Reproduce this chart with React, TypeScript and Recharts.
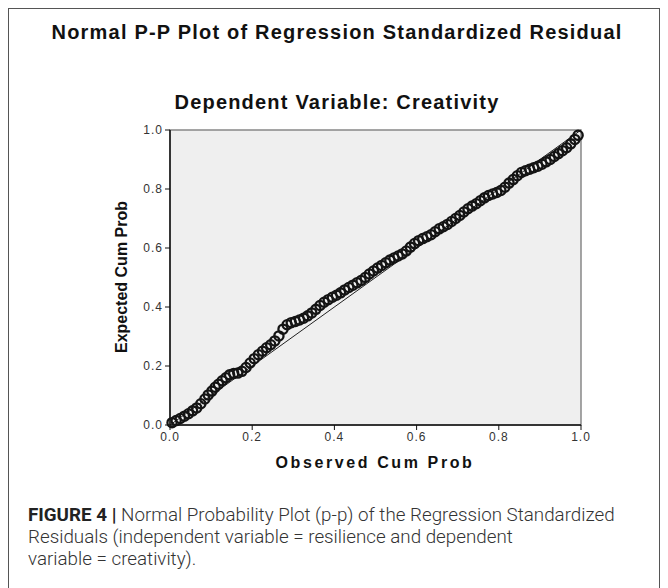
import {
  ScatterChart,
  Scatter,
  XAxis,
  YAxis,
  ReferenceArea,
  ReferenceLine,
} from 'recharts'

// observed cumulative probability (x) and expected cumulative probability (y)
const observed = [
  0.005, 0.015, 0.025, 0.035, 0.045, 0.055, 0.065, 0.075, 0.085, 0.093,
  0.102, 0.11, 0.118, 0.127, 0.136, 0.145, 0.155, 0.165, 0.175, 0.185,
  0.195, 0.205, 0.215, 0.225, 0.235, 0.245, 0.255, 0.265, 0.275, 0.285,
  0.295, 0.305, 0.315, 0.325, 0.335, 0.345, 0.355, 0.365, 0.375, 0.385,
  0.395, 0.405, 0.415, 0.425, 0.435, 0.445, 0.455, 0.465, 0.475, 0.485,
  0.495, 0.505, 0.515, 0.525, 0.535, 0.545, 0.555, 0.565, 0.575, 0.585,
  0.595, 0.605, 0.615, 0.625, 0.635, 0.645, 0.655, 0.665, 0.675, 0.685,
  0.695, 0.705, 0.715, 0.725, 0.735, 0.745, 0.755, 0.765, 0.775, 0.785,
  0.795, 0.805, 0.815, 0.825, 0.835, 0.845, 0.855, 0.865, 0.875, 0.885,
  0.895, 0.905, 0.915, 0.925, 0.935, 0.945, 0.955, 0.965, 0.975, 0.985,
  0.993,
]
const expected = [
  0.008, 0.015, 0.022, 0.03, 0.038, 0.048, 0.058, 0.072, 0.088, 0.102,
  0.115, 0.128, 0.138, 0.15, 0.16, 0.17, 0.175, 0.176, 0.182, 0.195,
  0.21, 0.225, 0.238, 0.25, 0.262, 0.272, 0.285, 0.302, 0.325, 0.34,
  0.347, 0.351, 0.356, 0.362, 0.37, 0.38, 0.392, 0.405, 0.416, 0.425,
  0.433, 0.44, 0.448, 0.458, 0.466, 0.474, 0.482, 0.49, 0.5, 0.512,
  0.522, 0.532, 0.541, 0.55, 0.559, 0.566, 0.573, 0.58, 0.59, 0.603,
  0.615, 0.625, 0.632, 0.638, 0.645, 0.655, 0.665, 0.672, 0.68, 0.69,
  0.7, 0.71, 0.722, 0.733, 0.742, 0.75, 0.76, 0.77, 0.778, 0.783,
  0.788, 0.795, 0.806, 0.82, 0.832, 0.845, 0.856, 0.862, 0.867, 0.872,
  0.877, 0.884, 0.892, 0.9, 0.91, 0.92, 0.93, 0.94, 0.953, 0.968,
  0.982,
]
const ticks = [0, 0.2, 0.4, 0.6, 0.8, 1]

const points = observed.map((x, i) => ({ x, y: expected[i] }))

const tickStyle = { fontSize: 12, fill: '#333', fontFamily: 'Arial, "Liberation Sans"', letterSpacing: 1 }

const Ring = (props: any) => (
  <circle cx={props.cx} cy={props.cy} r={4.6} fill="none" stroke="#141414" strokeWidth={2.3} />
)

const headStyle = {
  position: 'absolute' as const,
  left: 0,
  width: 674,
  textAlign: 'center' as const,
  fontWeight: 'bold',
  fontSize: 20,
  letterSpacing: 1.2,
  color: '#111',
}

export default function App() {
  return (
    <div
      style={{
        position: 'absolute',
        left: 0,
        top: 0,
        width: 668,
        height: 588,
        overflow: 'hidden',
        background: '#fff',
        fontFamily: 'Arial, "Liberation Sans", sans-serif',
      }}
    >
      <div
        style={{
          position: 'absolute',
          left: 8,
          top: 8,
          width: 650,
          height: 620,
          border: '1px solid #555',
        }}
      />
      <div style={{ ...headStyle, top: 21 }}>
        Normal P-P Plot of Regression Standardized Residual
      </div>
      <div style={{ ...headStyle, top: 91 }}>Dependent Variable: Creativity</div>

      <div style={{ position: 'absolute', left: 0, top: 0 }}>
        <ScatterChart
          width={668}
          height={588}
          margin={{ top: 130, right: 87, bottom: 133, left: 130 }}
        >
          <ReferenceArea
            x1={0}
            x2={1}
            y1={0}
            y2={1}
            fill="#efefef"
            fillOpacity={1}
            stroke="#888"
            strokeWidth={1.5}
          />
          <XAxis
            type="number"
            dataKey="x"
            domain={[0, 1]}
            ticks={ticks}
            tickFormatter={(v: number) => v.toFixed(1)}
            tick={tickStyle}
            tickLine={{ stroke: '#111' }}
            axisLine={{ stroke: '#111', strokeWidth: 1.5 }}
            tickSize={5}
            height={30}
          />
          <YAxis
            type="number"
            dataKey="y"
            domain={[0, 1]}
            ticks={ticks}
            tickFormatter={(v: number) => v.toFixed(1)}
            tick={tickStyle}
            tickLine={{ stroke: '#111' }}
            axisLine={{ stroke: '#111', strokeWidth: 1.5 }}
            tickSize={5}
            width={40}
          />
          <ReferenceLine
            segment={[
              { x: 0, y: 0 },
              { x: 1, y: 1 },
            ]}
            stroke="#222"
            strokeWidth={1}
          />
          <Scatter data={points} shape={Ring} isAnimationActive={false} />
        </ScatterChart>
      </div>

      <div
        style={{
          position: 'absolute',
          left: 255,
          width: 240,
          top: 454,
          textAlign: 'center',
          fontWeight: 'bold',
          fontSize: 16,
          letterSpacing: 2.6,
          color: '#111',
        }}
      >
        Observed Cum Prob
      </div>
      <div
        style={{
          position: 'absolute',
          left: 122,
          top: 277,
          transform: 'translate(-50%, -50%) rotate(-90deg)',
          whiteSpace: 'nowrap',
          fontWeight: 'bold',
          fontSize: 16,
          color: '#111',
          fontFamily: '"Liberation Sans Narrow", Arial, sans-serif',
        }}
      >
        Expected Cum Prob
      </div>

      <div
        style={{
          position: 'absolute',
          left: 28,
          top: 504,
          fontSize: 18.8,
          lineHeight: '22px',
          color: '#333',
          fontFamily: 'Roboto, Arial, sans-serif',
          fontWeight: 300,
          whiteSpace: 'nowrap',
        }}
      >
        <div>
          <span style={{ fontWeight: 'bold', color: '#222' }}>FIGURE 4 | </span>
          Normal Probability Plot (p-p) of the Regression Standardized
        </div>
        <div>Residuals (independent variable = resilience and dependent</div>
        <div>variable = creativity).</div>
      </div>
    </div>
  )
}
